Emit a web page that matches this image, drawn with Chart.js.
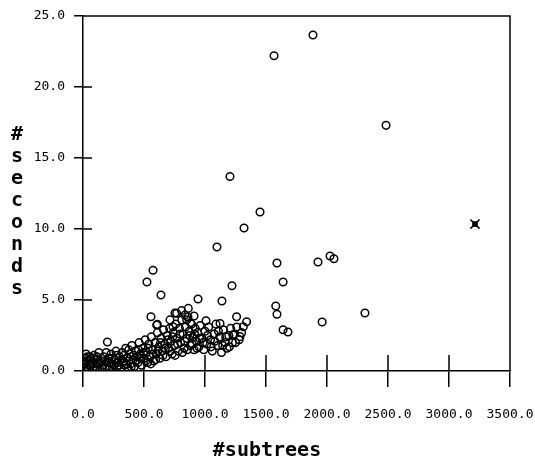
<!DOCTYPE html>
<html>
<head>
<meta charset="utf-8">
<script src="https://cdn.jsdelivr.net/npm/chart.js@4.4.1/dist/chart.umd.min.js"></script>
<style>
  html, body { margin: 0; padding: 0; background: #fff; }
  #wrap { width: 535px; height: 468px; }
</style>
</head>
<body>
<div id="wrap"><canvas id="scatterChart" width="535" height="468"></canvas></div>
<script>
// #subtrees vs #seconds
const subtrees = [
  10, 15, 20, 25, 30, 40, 45, 55, 60, 70, 80, 90, 95, 110, 120, 130, 140, 150,
  160, 170, 180, 195, 210, 220, 230, 240, 250, 260, 270, 280, 290, 300, 310, 320, 330, 340, 350,
  360, 370, 380, 390, 400, 410, 420, 430, 440, 450, 460, 470, 480, 490, 500, 510, 520, 530, 540, 550,
  560, 570, 580, 590, 600, 610, 620, 630, 640, 650, 660, 670, 680, 690, 700, 710, 720, 730, 740, 750,
  760, 770, 780, 790, 800, 810, 820, 830, 840, 850, 860, 870, 880, 890, 900, 910, 920, 930, 940, 950,
  960, 975, 990, 1000, 1015, 1030, 1045, 1060, 1075, 1090, 1105, 1120, 1135, 1150, 1165, 1180, 1195, 1210, 1225, 1240, 1260, 1280, 1300,
  5, 35, 50, 65, 85, 100, 115, 135, 155, 175, 190, 215, 235, 255, 275, 295, 315, 335, 355, 375,
  395, 415, 435, 455, 475, 495, 515, 535, 555, 575, 595, 615, 635, 655, 675, 695, 715, 735, 755, 775,
  795, 815, 835, 855, 875, 895, 915, 935, 955, 985, 1020, 1050, 1080, 1110, 1145, 1170, 1200, 1250,
  768, 808, 863, 836, 910, 850, 882, 713, 738, 609, 557, 604, 754, 1008, 1123, 1259, 1341, 1314, 1232, 1287,
  1566, 1885, 2484, 1205, 1451, 1320, 1098, 1590, 1926, 2025, 2057, 574, 524, 639, 1640, 1221, 943, 1139,
  1580, 1590, 2311, 1960, 1640, 1680, 200
];
const seconds = [
  0.2, 0.5, 0.9, 1.2, 0.3, 0.7, 0.1, 1.0, 0.4, 0.6, 0.2, 1.1, 0.8, 0.3, 0.5, 1.3, 0.1, 0.7,
  0.4, 1.0, 0.2, 0.6, 0.9, 0.3, 1.2, 0.5, 0.1, 0.8, 1.4, 0.3, 0.6, 1.0, 0.2, 1.3, 0.7, 0.4, 1.6,
  0.9, 0.2, 1.2, 0.5, 1.8, 0.8, 0.3, 1.4, 1.0, 0.6, 2.0, 1.2, 0.4, 1.6, 0.9, 2.2, 1.3, 0.6, 1.9, 1.0,
  2.4, 1.5, 0.7, 2.0, 1.2, 2.7, 1.7, 0.9, 2.3, 1.4, 2.9, 1.9, 1.0, 2.5, 1.6, 3.0, 2.1, 1.2, 2.7, 1.8,
  3.3, 2.3, 1.4, 3.0, 2.0, 3.6, 2.6, 1.6, 3.1, 2.3, 3.8, 2.8, 1.8, 3.3, 2.4, 1.5, 3.0, 2.1, 2.7, 1.7,
  3.2, 2.3, 1.5, 2.8, 1.9, 3.1, 2.2, 1.4, 2.6, 3.3, 1.8, 2.4, 1.3, 2.9, 2.0, 1.6, 2.5, 3.0, 2.0, 2.6, 3.1, 2.2, 2.7,
  0.6, 1.0, 0.4, 0.9, 0.5, 0.8, 1.0, 0.6, 0.2, 0.7, 1.3, 0.6, 0.9, 0.4, 1.1, 0.4, 0.8, 1.1, 0.5, 1.5,
  0.3, 1.1, 0.7, 1.5, 0.9, 1.3, 0.7, 1.6, 0.5, 1.2, 0.8, 1.4, 2.0, 1.1, 1.6, 2.2, 1.4, 2.4, 1.1, 1.9,
  2.6, 1.3, 2.1, 1.5, 2.5, 1.9, 2.6, 1.6, 2.3, 2.0, 2.5, 1.7, 2.1, 2.8, 1.8, 2.4, 1.7, 2.0,
  4.06, 4.25, 4.41, 3.94, 3.87, 3.6, 3.4, 3.6, 3.12, 3.28, 3.82, 3.24, 4.08, 3.54, 3.35, 3.82, 3.47, 3.12, 2.54, 2.42,
  22.2, 23.66, 17.3, 13.7, 11.2, 10.07, 8.73, 7.6, 7.68, 8.1, 7.9, 7.1, 6.27, 5.35, 6.27, 6.0, 5.07, 4.93,
  4.58, 4.0, 4.08, 3.45, 2.9, 2.75, 2.04
];
// the single point drawn with the other marker
const specialSubtrees = [3213];
const specialSeconds = [10.35];

const xTicks = [0, 500, 1000, 1500, 2000, 2500, 3000, 3500];
const yTicks = [0, 5, 10, 15, 20, 25];

const toPoints = (xs, ys) => xs.map((v, i) => ({ x: v, y: ys[i] }));

const labelFont = { family: "'DejaVu Sans Mono', monospace", size: 13 };
const titleFont = "bold 20px 'DejaVu Sans Mono', monospace";

// ticks cross the axes, frame on top/right, stacked axis titles
const framePlugin = {
  id: "frame",
  afterDraw(chart) {
    const { ctx, chartArea: a, scales } = chart;
    ctx.save();
    ctx.strokeStyle = "#000";
    ctx.lineWidth = 1.5;
    ctx.beginPath();
    ctx.moveTo(a.left, a.top);
    ctx.lineTo(a.right, a.top);
    ctx.lineTo(a.right, a.bottom);
    xTicks.forEach((v) => {
      if (v === 0) return;
      const px = Math.round(scales.x.getPixelForValue(v));
      ctx.moveTo(px, a.bottom);
      ctx.lineTo(px, a.bottom - 16);
    });
    yTicks.forEach((v) => {
      if (v === 0 || v === 25) return;
      const py = Math.round(scales.y.getPixelForValue(v));
      ctx.moveTo(a.left, py);
      ctx.lineTo(a.left + 9, py);
    });
    ctx.stroke();

    ctx.fillStyle = "#000";
    ctx.font = titleFont;
    ctx.textAlign = "center";
    ctx.textBaseline = "middle";
    ctx.fillText("#subtrees", 267, 451);
    "#seconds".split("").forEach((ch, i) => {
      ctx.fillText(ch, 17, 135 + i * 22);
    });
    ctx.restore();
  },
};

new Chart(document.getElementById("scatterChart"), {
  type: "scatter",
  data: {
    datasets: [
      {
        data: toPoints(subtrees, seconds),
        pointStyle: "circle",
        pointRadius: 3.8,
        borderWidth: 1.5,
        borderColor: "#000",
        backgroundColor: "rgba(0,0,0,0)",
      },
      {
        data: toPoints(specialSubtrees, specialSeconds),
        pointStyle: "rect",
        pointRadius: 4,
        borderWidth: 0,
        backgroundColor: "#000",
      },
      {
        data: toPoints(specialSubtrees, specialSeconds),
        pointStyle: "crossRot",
        pointRadius: 6.5,
        borderWidth: 1.5,
        borderColor: "#000",
      },
    ],
  },
  options: {
    responsive: false,
    animation: false,
    devicePixelRatio: 1,
    layout: { padding: { top: 16, right: 25, left: 0, bottom: 0 } },
    plugins: {
      legend: { display: false },
      tooltip: { enabled: false },
    },
    scales: {
      x: {
        type: "linear",
        min: 0,
        max: 3500,
        afterBuildTicks: (s) => {
          s.ticks = xTicks.map((v) => ({ value: v }));
        },
        afterFit: (s) => {
          s.height = 97;
          s.paddingLeft = 0;
          s.paddingRight = 0;
        },
        border: { display: true, color: "#000", width: 1.5 },
        grid: {
          drawOnChartArea: false,
          drawTicks: true,
          tickLength: 16,
          color: "#000",
          lineWidth: 1.5,
        },
        ticks: {
          color: "#000",
          font: labelFont,
          padding: 20,
          maxRotation: 0,
          autoSkip: false,
          callback: (v) => Number(v).toFixed(1),
        },
      },
      y: {
        type: "linear",
        min: 0,
        max: 25,
        afterBuildTicks: (s) => {
          s.ticks = yTicks.map((v) => ({ value: v }));
        },
        afterFit: (s) => {
          s.width = 83;
          s.paddingTop = 0;
          s.paddingBottom = 0;
        },
        border: { display: true, color: "#000", width: 1.5 },
        grid: {
          drawOnChartArea: false,
          drawTicks: true,
          tickLength: 9,
          color: "#000",
          lineWidth: 1.5,
        },
        ticks: {
          color: "#000",
          font: labelFont,
          padding: 9,
          autoSkip: false,
          callback: (v) => Number(v).toFixed(1),
        },
      },
    },
  },
  plugins: [framePlugin],
});
</script>
</body>
</html>
